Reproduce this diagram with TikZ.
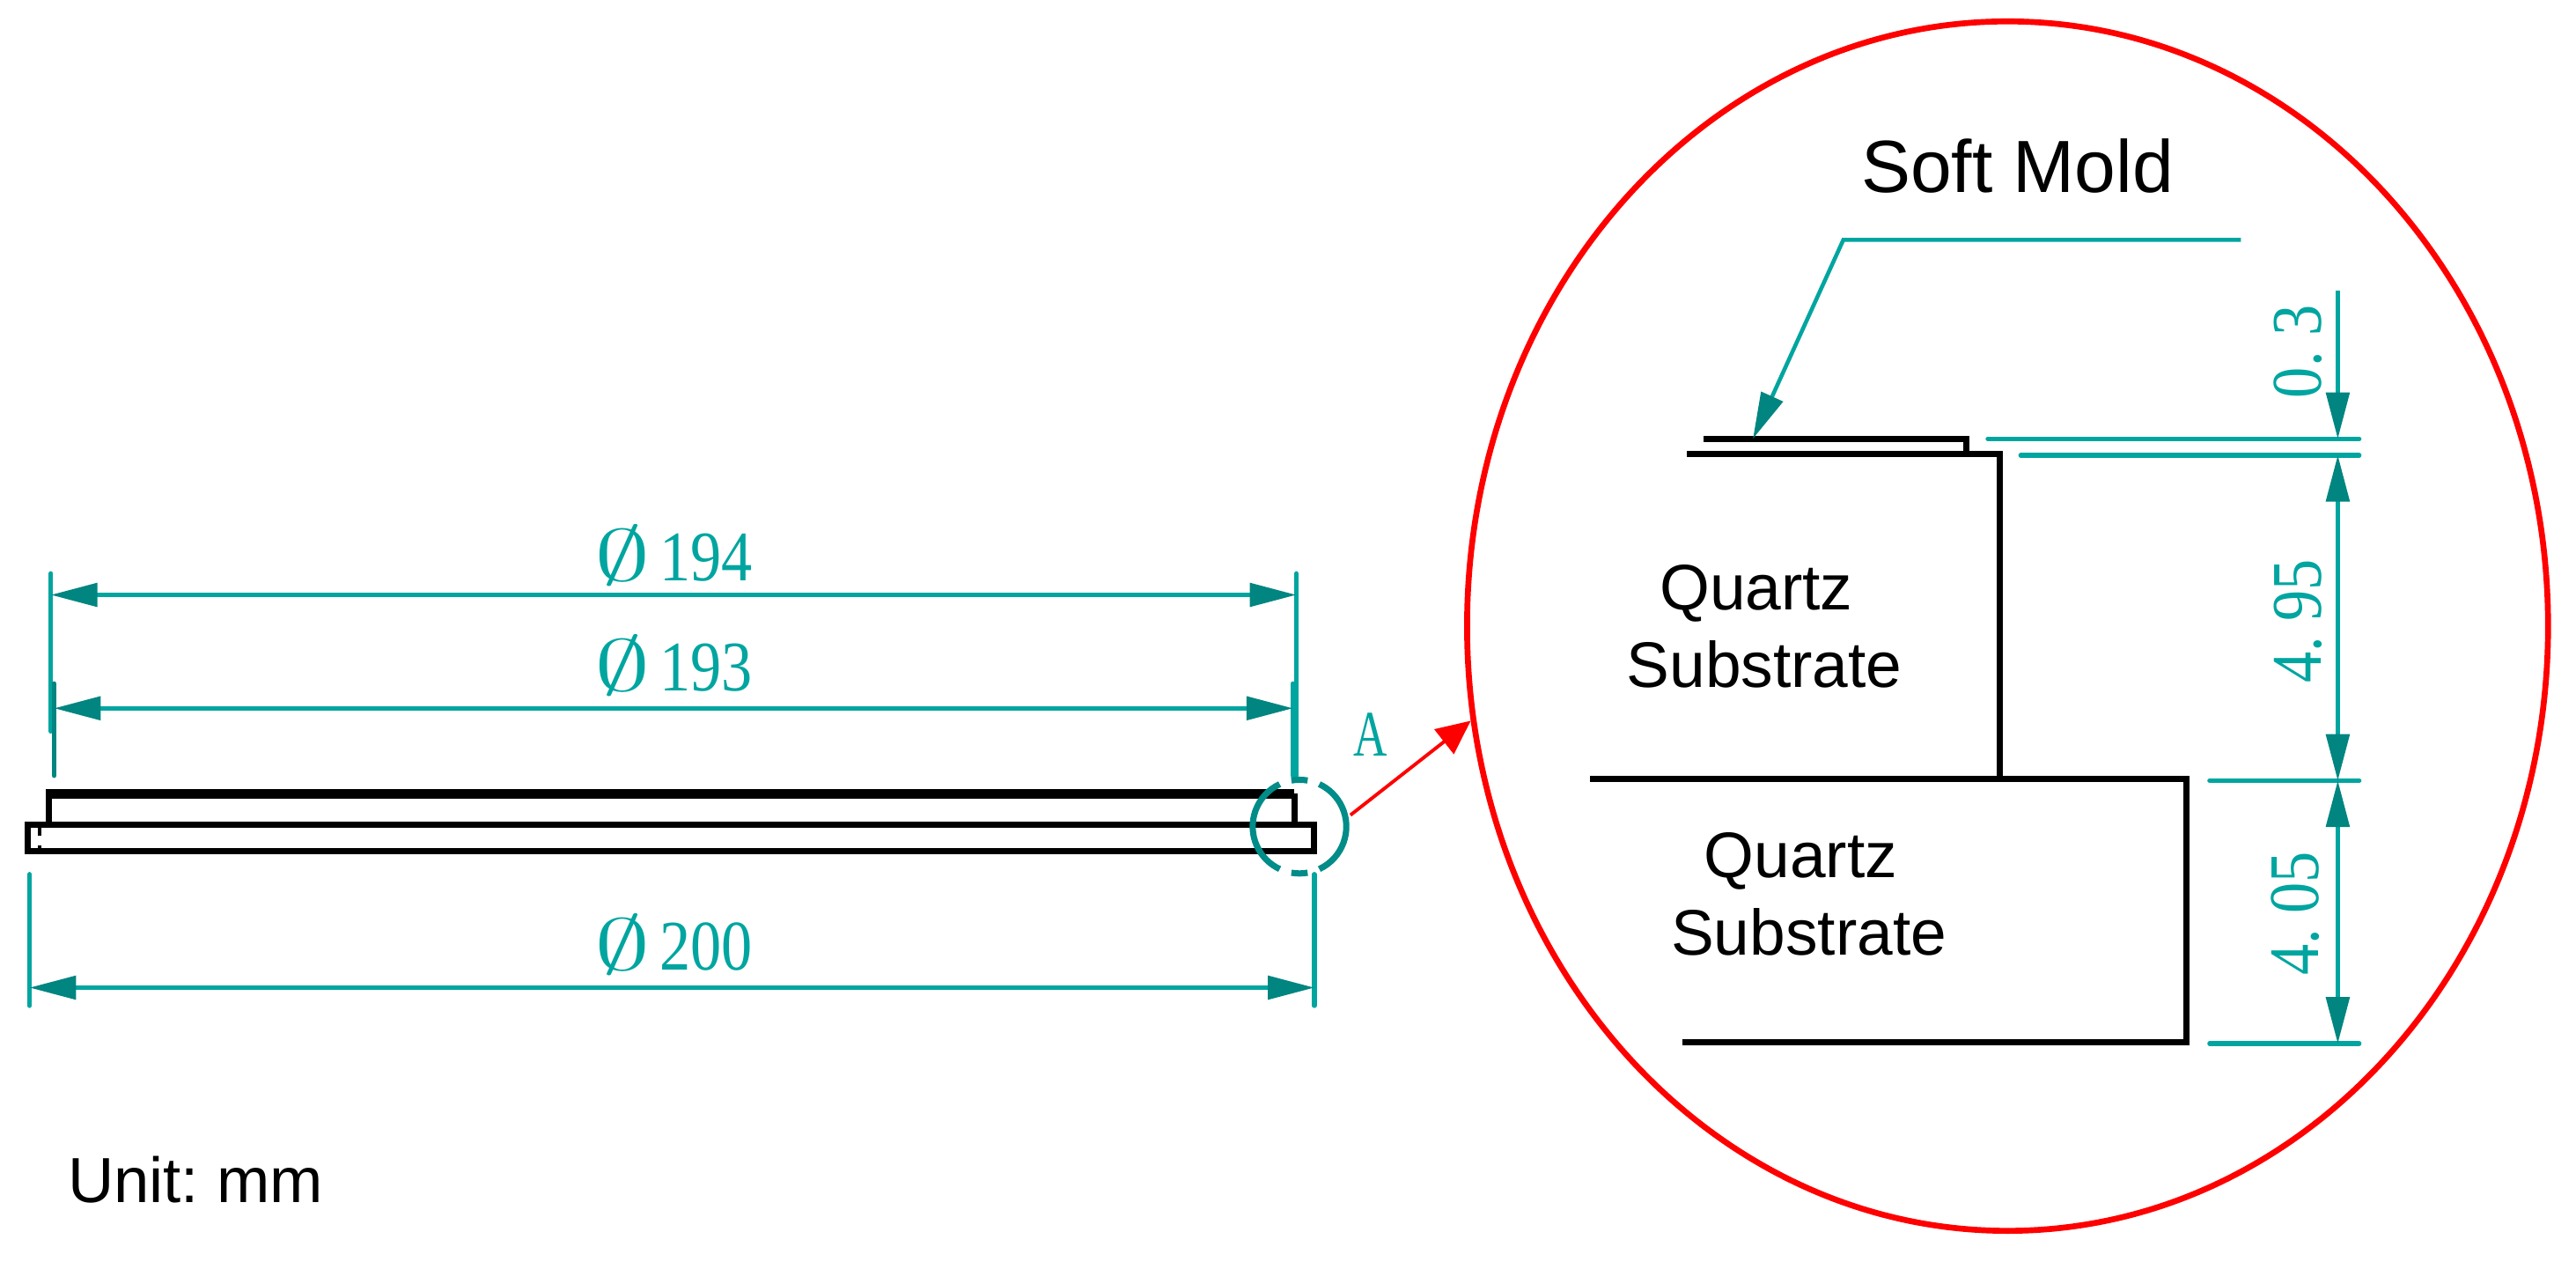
\documentclass[tikz,border=0pt]{standalone}
\usepackage{fontspec}
\newfontfamily\capfont{Liberation Sans}
\newfontfamily\dimfont{Liberation Serif}
\usetikzlibrary{arrows.meta,shapes.geometric}
\definecolor{dimteal}{HTML}{00A5A0}
\definecolor{tipteal}{HTML}{008580}
\definecolor{circteal}{HTML}{008C88}
\newcommand{\dimtext}[1]{\scalebox{0.87}[1]{\fontsize{23pt}{26pt}\selectfont\dimfont #1}}
\newcommand{\dia}[1]{\scalebox{1.45}[0.95]{\fontsize{23pt}{24pt}\selectfont$\emptyset$}\hspace{3pt}\dimtext{#1}}
\tikzset{
  x=0.018661cm, y=-0.018661cm,
  dimtip/.tip={Triangle[length=15pt,width=7.5pt,color=tipteal,fill=tipteal]},
  dimline/.style={draw=dimteal,line width=1.3pt},
  extline/.style={draw=dimteal,line width=1.5pt,line cap=round},
  body/.style={draw=black,line width=2pt,line join=miter},
  thickbody/.style={draw=black,line width=3pt},
  dimlabel/.style={text=dimteal,inner sep=0pt},
  vlabel/.style={text=dimteal,inner sep=0pt,rotate=90},
  caption/.style={text=black,inner sep=0pt,align=center},
  zoomring/.style={draw=circteal,line width=2pt},
}
\begin{document}
\frenchspacing
\begin{tikzpicture}
\useasboundingbox (0,0) rectangle (1568,772);
% ---- side view
\coordinate (plateNW) at (17,502);
\coordinate (plateSE) at (800,518);
\draw[body] (plateNW) rectangle (plateSE);
\draw[body,line width=1pt,dash pattern=on 3pt off 3pt] (24,503) -- (24,517);
\coordinate (moldA) at (30,502);
\coordinate (moldB) at (30,483);
\coordinate (moldC) at (788,483);
\coordinate (moldD) at (788,502);
\draw[body] (moldA) -- (moldB);
\draw[body] (moldC) -- (moldD);
\draw[thickbody] (28,483) -- (moldC);
% ---- extension lines
\coordinate (e1a) at (31,349); \coordinate (e1b) at (31,445);
\coordinate (e2a) at (33,416); \coordinate (e2b) at (33,472);
\coordinate (e3a) at (789,349); \coordinate (e3b) at (789,472);
\coordinate (e4a) at (787,416); \coordinate (e4b) at (787,472);
\coordinate (e5a) at (18,532); \coordinate (e5b) at (18,612);
\coordinate (e6a) at (800,532); \coordinate (e6b) at (800,612);
\draw[extline] (e1a) -- (e1b);
\draw[extline,draw=tipteal] (e2a) -- (e2b);
\draw[extline] (e3a) -- (e3b);
\draw[extline] (e4a) -- (e4b);
\draw[extline] (e5a) -- (e5b);
\draw[extline] (e6a) -- (e6b);
% ---- dimensions
\coordinate (d1a) at (31,362); \coordinate (d1b) at (789,362);
\coordinate (d2a) at (33,431); \coordinate (d2b) at (787,431);
\coordinate (d3a) at (18,601); \coordinate (d3b) at (800,601);
\draw[dimline,{dimtip}-{dimtip}] (d1a) -- (d1b);
\draw[dimline,{dimtip}-{dimtip}] (d2a) -- (d2b);
\draw[dimline,{dimtip}-{dimtip}] (d3a) -- (d3b);
\node[dimlabel] (t194) at (410,338) {\dia{194}};
\node[dimlabel] (t193) at (410,405) {\dia{193}};
\node[dimlabel] (t200) at (410,575) {\dia{200}};
% ---- detail ring
\coordinate (ring) at (791,503);
\draw[zoomring] (ring) ++(65:28.5) arc[start angle=65,end angle=-65,radius=28.5];
\draw[zoomring] (ring) ++(-80:28.5) arc[start angle=-80,end angle=-100,radius=28.5];
\draw[zoomring] (ring) ++(-115:28.5) arc[start angle=-115,end angle=-245,radius=28.5];
\draw[zoomring] (ring) ++(100:28.5) arc[start angle=100,end angle=80,radius=28.5];
\node[text=dimteal,inner sep=0pt,xscale=0.72] (labelA) at (834,447) {\fontsize{21pt}{24pt}\selectfont\dimfont A};
\coordinate (arrowStart) at (822,496);
\node[draw=red,line width=1.9pt,ellipse,inner sep=0pt,minimum width=12.279cm,minimum height=13.734cm] (detail) at (1222,381) {};
\draw[red,line width=1.1pt,-{Triangle[length=11pt,width=10pt,color=red,fill=red]}] (arrowStart) -- (detail.190);
% section outlines
\draw[body] (1037,267) -- (1197,267) -- (1197,276);
\draw[body] (1027,276) -- (1217,276) -- (1217,474);
\draw[body] (968,474) -- (1331,474) -- (1331,634) -- (1024,634);
% leader
\coordinate (lead1) at (1364,146);
\coordinate (lead2) at (1122,146);
\coordinate (lead3) at (1067,267);
\draw[dimline,-{Triangle[length=15pt,width=7.5pt,color=tipteal,fill=tipteal]}] (lead1) -- (lead2) -- (lead3);
% extensions in detail
\draw[extline] (1210,267) -- (1436,267);
\draw[extline] (1230,277) -- (1436,277);
\draw[extline] (1345,475) -- (1436,475);
\draw[extline] (1345,635) -- (1436,635);
% vertical dimensions
\coordinate (v0) at (1423,177);
\coordinate (v1) at (1423,267);
\coordinate (v2) at (1423,277);
\coordinate (v3) at (1423,475);
\coordinate (v4) at (1423,635);
\draw[dimline,-{dimtip}] (v0) -- (v1);
\draw[dimline,{dimtip}-{dimtip}] (v2) -- (v3);
\draw[dimline,{dimtip}-{dimtip}] (v3) -- (v4);
\node[vlabel] (t03) at (1399,214) {\dimtext{0. 3}};
\node[vlabel] (t495) at (1399,378) {\dimtext{4. 95}};
\node[vlabel] (t405) at (1397,556) {\dimtext{4. 05}};
% ---- captions
\node[caption,font=\capfont\fontsize{23.9pt}{28pt}\selectfont] (softmold) at (1228,101) {Soft Mold};
\node[caption,font=\capfont\fontsize{20.8pt}{25pt}\selectfont] (q1) at (1074,381) {Quartz\hspace*{5.3pt}\\Substrate};
\node[caption,font=\capfont\fontsize{20.8pt}{25pt}\selectfont] (q2) at (1101,544) {Quartz\hspace*{5.3pt}\\Substrate};
\node[caption,anchor=west,font=\capfont\fontsize{20.6pt}{24pt}\selectfont] (unit) at (41,718) {Unit: mm};
\end{tikzpicture}
\end{document}
